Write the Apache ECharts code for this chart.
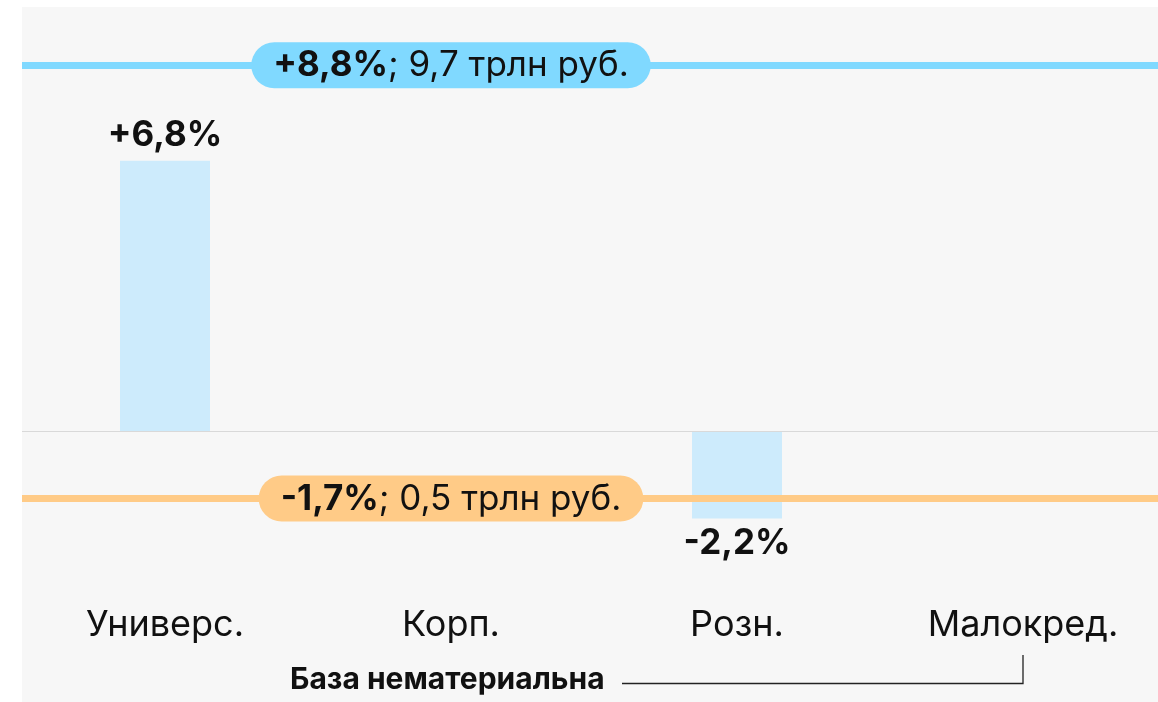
<!DOCTYPE html>
<html>
<head>
<meta charset="utf-8">
<script src="https://cdn.jsdelivr.net/npm/echarts@6/dist/echarts.min.js"></script>
<style>
  html, body { margin: 0; padding: 0; background: #fff; overflow: hidden; }
  #chart { width: 1166px; height: 702px; }
</style>
</head>
<body>
<div id="chart"></div>
<script>
'use strict';
// сегменты банков
var categories = ['Универс.', 'Корп.', 'Розн.', 'Малокред.'];
// прирост, %
var growth = [6.8, null, -2.2, null];
var growthLabels = ['+6,8%', '', '-2,2%', ''];
// уровни линий (как нарисованы) и подписи к ним
var lineLevels = [9.2, -1.7];
var lineBold = ['+8,8%', '-1,7%'];
var lineText = ['; 9,7 трлн руб.', '; 0,5 трлн руб.'];
var lineColors = ['#80d9ff', '#ffcb87'];
var labelAt = 'Корп.';
var noteText = 'База нематериальна';
var noteCategory = 'Малокред.';

var FONT = 'Inter, "Noto Sans", sans-serif';
var chart = echarts.init(document.getElementById('chart'));

var markLines = lineLevels.map(function (v, i) {
    return {
        yAxis: v,
        lineStyle: { color: lineColors[i], width: 7, type: 'solid' }
    };
});
markLines.push({ yAxis: 0, lineStyle: { color: '#d9d9d9', width: 1, type: 'solid' } });

var pillSeries = lineLevels.map(function (v, i) {
    return {
        type: 'scatter',
        symbolSize: 0,
        z: 10,
        data: [[labelAt, v]],
        silent: true,
        itemStyle: { opacity: 1 },
        label: {
            show: true,
            position: 'inside',
            formatter: '{b|' + lineBold[i] + '}{r|' + lineText[i] + '}',
            backgroundColor: lineColors[i],
            borderRadius: 23,
            padding: [6, 22, 5, 22],
            rich: {
                b: { fontFamily: FONT, fontSize: 35, fontWeight: 'bold', color: '#111', lineHeight: 35 },
                r: { fontFamily: FONT, fontSize: 35, color: '#111', lineHeight: 35 }
            }
        }
    };
});

var barData = growth.map(function (v) {
    return { value: v, label: { position: v < 0 ? 'bottom' : 'top' } };
});

var option = {
    animation: false,
    backgroundColor: '#fff',
    grid: { left: 22, right: 0, top: 33.5, height: 556.5 },
    xAxis: {
        type: 'category',
        data: categories,
        axisLine: { show: false },
        axisTick: { show: false },
        axisLabel: { margin: 17, fontFamily: FONT, fontSize: 36, color: '#111' }
    },
    yAxis: {
        type: 'value',
        min: -4,
        max: 10,
        show: false
    },
    series: [{
        type: 'bar',
        data: barData,
        barWidth: 90,
        itemStyle: { color: '#cdebfc' },
        label: {
            show: true,
            fontFamily: FONT,
            fontSize: 35,
            fontWeight: 'bold',
            color: '#111',
            formatter: function (p) { return growthLabels[p.dataIndex]; },
            distance: 8
        },
        markLine: {
            silent: true,
            symbol: 'none',
            label: { show: false },
            data: markLines
        }
    }].concat(pillSeries)
};
chart.setOption(option);

// подпись-сноска под категорией «Малокред.»
var nx = chart.convertToPixel({ xAxisIndex: 0 }, noteCategory);
chart.setOption({
    graphic: [{
        type: 'rect',
        z: -10,
        shape: { x: 22, y: 7, width: 1144, height: 695 },
        style: { fill: '#f7f7f7' }
    }, {
        type: 'text',
        left: 290,
        top: 665,
        style: { text: noteText, fontFamily: FONT, fontSize: 30, fontWeight: 'bold', fill: '#111' }
    }, {
        type: 'polyline',
        shape: { points: [[622, 683.5], [nx, 683.5], [nx, 655]] },
        style: { stroke: '#222', lineWidth: 1.3, fill: null }
    }]
});
</script>
</body>
</html>
